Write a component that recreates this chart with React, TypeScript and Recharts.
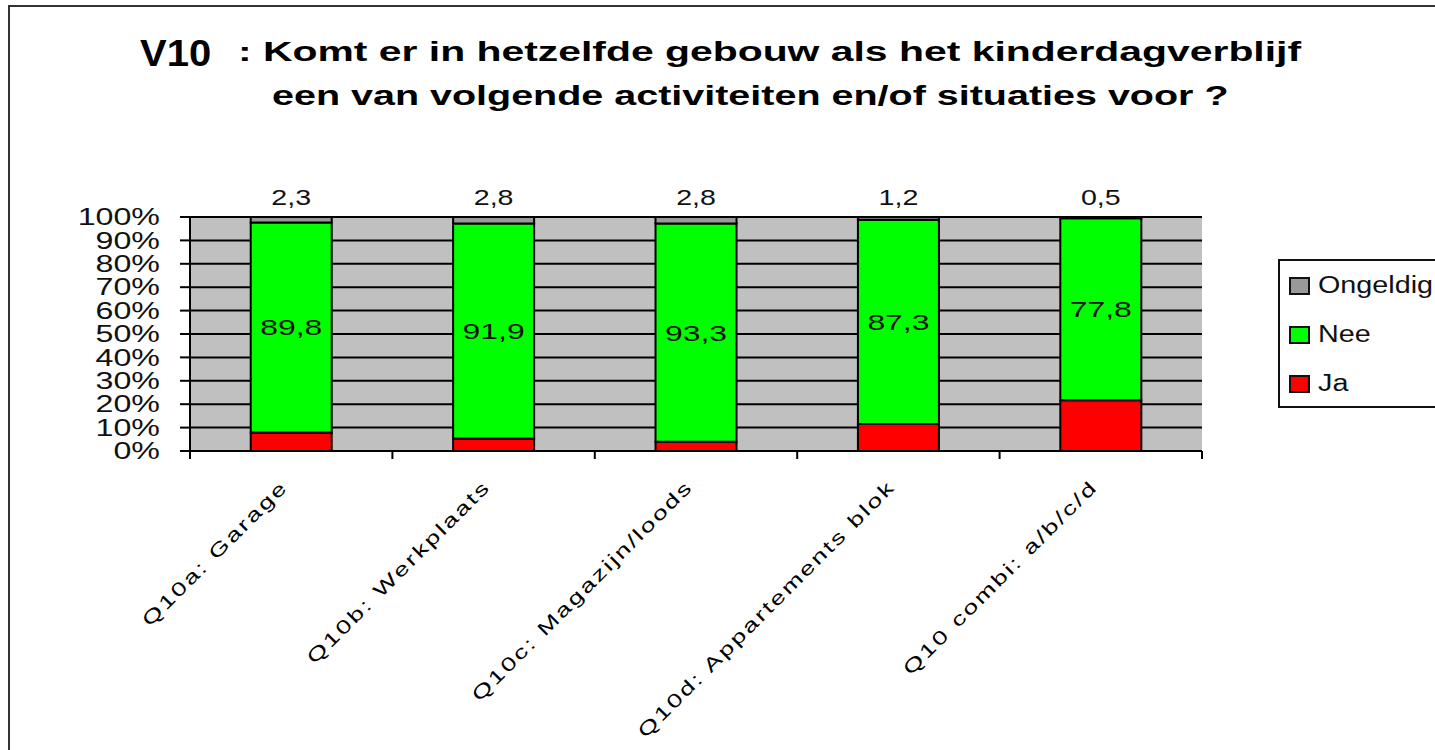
import { Bar, BarChart, CartesianGrid, LabelList, Legend, XAxis, YAxis } from "recharts";

const categories = [
  "Q10a: Garage",
  "Q10b: Werkplaats",
  "Q10c: Magazijn/loods",
  "Q10d: Appartements blok",
  "Q10 combi: a/b/c/d",
];
const ja = [7.9, 5.3, 3.9, 11.5, 21.7];
const nee = [89.8, 91.9, 93.3, 87.3, 77.8];
const ongeldig = [2.3, 2.8, 2.8, 1.2, 0.5];
const yTicks = [0, 10, 20, 30, 40, 50, 60, 70, 80, 90, 100];

const series = [
  { key: "ja", name: "Ja", color: "#FF0000" },
  { key: "nee", name: "Nee", color: "#00FF00" },
  { key: "ongeldig", name: "Ongeldig", color: "#999999" },
];

const data = categories.map((c, i) => ({
  name: c,
  ja: ja[i],
  nee: nee[i],
  ongeldig: ongeldig[i],
}));

const FONT = "'Liberation Sans', Arial, sans-serif";
const fmt = (v: number) => String(v).replace(".", ",");

const YTick = (props: any) => {
  const { x, y, payload } = props;
  return (
    <text
      transform={`translate(${x},${y}) scale(1.4,1)`}
      textAnchor="end"
      dy="0.36em"
      fontSize={23}
      fontFamily={FONT}
      fill="#111"
    >
      {payload.value}%
    </text>
  );
};

const XTick = (props: any) => {
  const { x, y, payload, index } = props;
  const half = payload.offset || 101;
  return (
    <g>
      <line x1={x - half} y1={y - 8} x2={x - half} y2={y} stroke="#000" strokeWidth={2} />
      {index === categories.length - 1 && (
        <line x1={x + half} y1={y - 8} x2={x + half} y2={y} stroke="#000" strokeWidth={2} />
      )}
      <text
        transform={`translate(${x - 2},${y + 29}) rotate(-45) scale(1.4,1)`}
        textAnchor="end"
        fontSize={19}
        letterSpacing={1.7}
        fontFamily={FONT}
        fill="#000"
      >
        {payload.value}
      </text>
    </g>
  );
};

const TopLabel = (props: any) => {
  const { x, y, width, value } = props;
  return (
    <text
      transform={`translate(${x + width / 2},${y - 12}) scale(1.3,1)`}
      textAnchor="middle"
      fontSize={22}
      fontFamily={FONT}
      fill="#111"
    >
      {fmt(value)}
    </text>
  );
};

const MidLabel = (props: any) => {
  const { x, y, width, height, value } = props;
  return (
    <text
      transform={`translate(${x + width / 2},${y + height / 2}) scale(1.45,1)`}
      textAnchor="middle"
      dy="0.36em"
      fontSize={22}
      fontFamily={FONT}
      fill="#111"
    >
      {fmt(value)}
    </text>
  );
};

const LegendBox = () => (
  <div
    style={{
      border: "2px solid #111",
      background: "#fff",
      width: 200,
      height: 149,
      boxSizing: "border-box",
      fontFamily: FONT,
      fontSize: 23,
      color: "#111",
    }}
  >
    {[...series].reverse().map((s) => (
      <div key={s.key} style={{ display: "flex", alignItems: "center", height: 49, paddingLeft: 9 }}>
        <span
          style={{
            width: 17,
            height: 14,
            background: s.color,
            border: "2px solid #111",
            marginRight: 8,
            display: "inline-block",
            flexShrink: 0,
          }}
        />
        <span style={{ display: "inline-block", transform: "scaleX(1.25)", transformOrigin: "left", whiteSpace: "nowrap" }}>
          {s.name}
        </span>
      </div>
    ))}
  </div>
);

export default function App() {
  return (
    <div style={{ position: "absolute", left: 0, top: 0, width: 1435, height: 750, overflow: "hidden", background: "#fff" }}>
      <div
        style={{
          position: "absolute",
          left: 8,
          top: 5,
          width: 1460,
          height: 800,
          border: "2px solid #333",
        }}
      />
      <div
        style={{
          position: "absolute",
          left: 140,
          top: 35,
          fontFamily: FONT,
          fontWeight: "bold",
          fontSize: 37,
          lineHeight: "37px",
          transform: "scaleX(1.08)",
          transformOrigin: "left",
        }}
      >
        V10
      </div>
      <div
        style={{
          position: "absolute",
          left: 238,
          top: 38,
          fontFamily: FONT,
          fontWeight: "bold",
          fontSize: 28,
          lineHeight: "28px",
          whiteSpace: "nowrap",
          transform: "scaleX(1.46)",
          transformOrigin: "left",
        }}
      >
        : Komt er in hetzelfde gebouw als het kinderdagverblijf
      </div>
      <div
        style={{
          position: "absolute",
          left: 272,
          top: 82,
          fontFamily: FONT,
          fontWeight: "bold",
          fontSize: 28,
          lineHeight: "28px",
          whiteSpace: "nowrap",
          transform: "scaleX(1.41)",
          transformOrigin: "left",
        }}
      >
        een van volgende activiteiten en/of situaties voor ?
      </div>
      <div style={{ position: "absolute", left: 0, top: 0 }}>
        <BarChart
          width={1435}
          height={750}
          data={data}
          margin={{ top: 217, right: 233, bottom: 19, left: 70 }}
          barCategoryGap="30%"
        >
          <CartesianGrid vertical={false} stroke="#000" strokeWidth={2} fill="#C0C0C0" fillOpacity={1} />
          <XAxis
            dataKey="name"
            interval={0}
            height={280}
            tickLine={false}
            tickSize={8}
            tickMargin={0}
            tick={<XTick />}
            axisLine={{ stroke: "#000", strokeWidth: 2 }}
          />
          <YAxis
            width={120}
            domain={[0, 100]}
            ticks={yTicks}
            interval={0}
            tickSize={10}
            tickMargin={20}
            tick={<YTick />}
            tickLine={{ stroke: "#000", strokeWidth: 2 }}
            axisLine={{ stroke: "#000", strokeWidth: 2 }}
          />
          <Legend
            layout="horizontal"
            align="center"
            verticalAlign="middle"
            content={<LegendBox />}
            wrapperStyle={{ position: "absolute", left: 1278, top: 259, width: 200, height: 149 }}
          />
          {series.map((s) => (
            <Bar
              key={s.key}
              dataKey={s.key}
              name={s.name}
              stackId="a"
              fill={s.color}
              stroke="#000"
              strokeWidth={2}
              isAnimationActive={false}
            >
              {s.key === "nee" && <LabelList dataKey="nee" content={<MidLabel />} />}
              {s.key === "ongeldig" && <LabelList dataKey="ongeldig" content={<TopLabel />} />}
            </Bar>
          ))}
        </BarChart>
      </div>
    </div>
  );
}
